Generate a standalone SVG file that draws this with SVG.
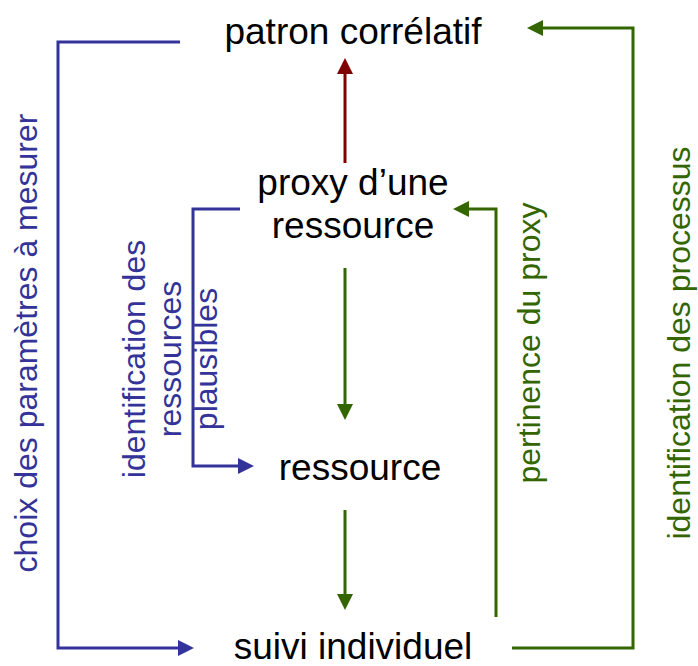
<svg xmlns="http://www.w3.org/2000/svg" width="698" height="666" viewBox="0 0 698 666">
<style>
.node{font-family:"Liberation Sans",Arial,sans-serif;font-size:37px;fill:#000;text-anchor:middle}
.lbl{font-family:"Liberation Sans",Arial,sans-serif;font-size:32px;text-anchor:middle}
.blue{fill:#333399}
.green{fill:#336600}
.c{fill:none;stroke-width:3}
.cb{stroke:#333399}
.cg{stroke:#336600}
.cr{stroke:#800000}
</style>
<defs>
<marker id="ab" viewBox="0 0 16 16" refX="2" refY="8" markerWidth="16" markerHeight="16" markerUnits="userSpaceOnUse" orient="auto"><path d="M0,0 L16,8 L0,16 z" fill="#333399"/></marker>
<marker id="ag" viewBox="0 0 16 16" refX="2" refY="8" markerWidth="16" markerHeight="16" markerUnits="userSpaceOnUse" orient="auto"><path d="M0,0 L16,8 L0,16 z" fill="#336600"/></marker>
<marker id="ar" viewBox="0 0 16 16" refX="2" refY="8" markerWidth="16" markerHeight="16" markerUnits="userSpaceOnUse" orient="auto"><path d="M0,0 L16,8 L0,16 z" fill="#800000"/></marker>
</defs>
<rect width="698" height="666" fill="#fff"/>
<g id="connectors">
<path class="c cr" d="M345,163 V72" marker-end="url(#ar)"/>
<path class="c cg" d="M345,268 V406" marker-end="url(#ag)"/>
<path class="c cg" d="M345,510 V596" marker-end="url(#ag)"/>
<path class="c cb" d="M180,42 H58 V648 H180" marker-end="url(#ab)"/>
<path class="c cb" d="M240,209 H193 V466 H240" marker-end="url(#ab)"/>
<path class="c cg" d="M496,617 V209 H467" marker-end="url(#ag)"/>
<path class="c cg" d="M512,648 H633 V28 H541" marker-end="url(#ag)"/>
</g>
<g id="patron"><text class="node" x="353" y="44">patron corrélatif</text></g>
<g id="proxy"><text class="node" x="353" y="195">proxy d’une</text><text class="node" x="353" y="238">ressource</text></g>
<g id="ressource"><text class="node" x="360" y="480">ressource</text></g>
<g id="suivi"><text class="node" x="353" y="659">suivi individuel</text></g>
<g id="labels">
<text class="lbl blue" x="37" y="343" transform="rotate(-90 37 343)">choix des paramètres à mesurer</text>
<text class="lbl blue" x="145" y="359" transform="rotate(-90 145 359)">identification des</text>
<text class="lbl blue" x="181" y="359" transform="rotate(-90 181 359)">ressources</text>
<text class="lbl blue" x="217" y="359" transform="rotate(-90 217 359)">plausibles</text>
<text class="lbl green" x="540" y="343" transform="rotate(-90 540 343)">pertinence du proxy</text>
<text class="lbl green" x="690" y="343" transform="rotate(-90 690 343)">identification des processus</text>
</g>
</svg>
